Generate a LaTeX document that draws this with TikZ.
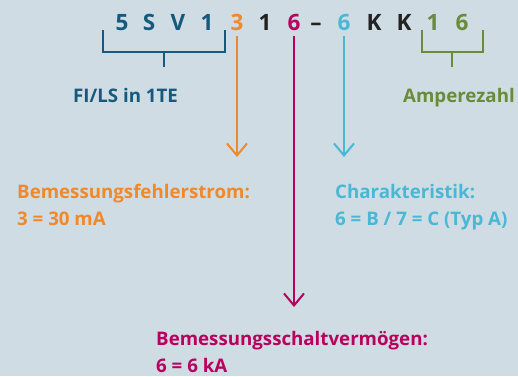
\documentclass[tikz,border=0pt]{standalone}
\usepackage{fontspec}
\setmainfont{Open Sans}
\usetikzlibrary{arrows.meta,positioning}
\definecolor{bgcol}{HTML}{CFDCE4}
\definecolor{fiblue}{HTML}{155A7D}
\definecolor{ampgreen}{HTML}{6A8B3A}
\definecolor{fehlorange}{HTML}{F0892A}
\definecolor{schaltred}{HTML}{B8005E}
\definecolor{charcyan}{HTML}{48B8D4}
\definecolor{codeblack}{HTML}{222222}

\tikzset{
  digit/.style={font=\fontsize{22.5}{22.5}\selectfont\bfseries, inner sep=0pt, anchor=base},
  infotext/.style={font=\fontsize{18.7}{27}\selectfont\bfseries, inner sep=0pt, anchor=base west, align=left},
  bracket/.style={line width=2pt},
  pointer/.style={line width=2pt, -{Straight Barb[length=12pt, width=20pt, line width=2pt]}}
}

\begin{document}
\begin{tikzpicture}[x=1pt, y=-1pt]
    \fill[bgcol] (0,0) rectangle (518,376);
    \useasboundingbox (0,0) rectangle (518,376);

    % Order code
    \foreach \x/\t/\c [count=\i] in {122/5/fiblue, 149/S/fiblue, 178/V/fiblue, 207/1/fiblue,
        237/3/fehlorange, 265/1/codeblack, 294/6/schaltred, 316/--/codeblack,
        344/6/charcyan, 374/K/codeblack, 404/K/codeblack, 433/1/ampgreen, 462/6/ampgreen}
        \node[digit, text=\c] (c\i) at (\x,30) {\t};

    % Brackets
    \draw[bracket, fiblue] (103,30) |- (225,52) -- (225,30);
    \coordinate (fiTick) at (164,52);
    \draw[bracket, ampgreen] (422,30) |- (483,52) -- (483,30);
    \coordinate (ampTick) at (452,52);

    % Labels (base = last line)
    \node[infotext, text=fiblue] (fiLabel) at (73,102) {FI/LS in 1TE};
    \node[infotext, text=ampgreen] (ampLabel) at (403,102) {Amperezahl};
    \node[infotext, text=fehlorange] (fehlLabel) at (17,225) {Bemessungsfehlerstrom:\\3 = 30 mA};
    \node[infotext, text=charcyan] (charLabel) at (335,225) {Charakteristik:\\6 = B / 7 = C (Typ A)};
    \node[infotext, text=schaltred] (schaltLabel) at (156,372) {Bemessungsschaltvermögen:\\6 = 6 kA};

    \draw[bracket, fiblue] (fiTick) -- ++(0,15);
    \draw[bracket, ampgreen] (ampTick) -- ++(0,15);

    % Arrows
    \coordinate (fehlTip) at (237,157);
    \coordinate (charTip) at (344,157);
    \coordinate (schaltTip) at (294,307);
    \draw[pointer, fehlorange] ([yshift=-6pt]c5.south) -- (fehlTip);
    \draw[pointer, schaltred] ([yshift=-6pt]c7.south) -- (schaltTip);
    \draw[pointer, charcyan] ([yshift=-6pt]c9.south) -- (charTip);
\end{tikzpicture}
\end{document}
